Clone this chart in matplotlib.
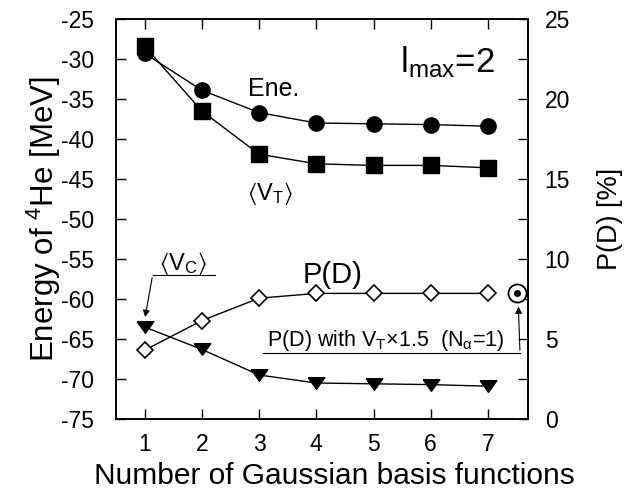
import numpy as np
import matplotlib
matplotlib.use("Agg")
import matplotlib.pyplot as plt

plt.rcParams['font.family'] = ['Liberation Sans', 'DejaVu Sans']
plt.rcParams['mathtext.fontset'] = 'custom'
plt.rcParams['mathtext.rm'] = 'Liberation Sans'
plt.rcParams['mathtext.it'] = 'Liberation Sans:italic'
plt.rcParams['mathtext.fallback'] = 'stixsans'
plt.rcParams['axes.unicode_minus'] = False

# number of gaussian basis functions
nbasis = [1, 2, 3, 4, 5, 6, 7]
# energies in MeV (left axis)
ene = [-29.3, -33.9, -36.7, -38.0, -38.1, -38.2, -38.4]
vt = [-28.4, -36.5, -41.9, -43.1, -43.3, -43.3, -43.6]
vc = [-63.5, -66.3, -69.5, -70.5, -70.6, -70.7, -70.9]
# D-state probability in % (right axis)
pd = [4.3, 6.15, 7.55, 7.85, 7.85, 7.85, 7.85]
# single point: P(D) with V_T x 1.5, N_alpha = 1
pd15_x = 7.5
pd15_y = 7.9

# flat downward triangle
tri = [(-1, 0.7), (1, 0.7), (0, -0.7), (-1, 0.7)]

fig = plt.figure(figsize=(6.24, 4.95), dpi=100)
ax = fig.add_axes([116/624, 1-419/495, 412/624, 400/495])
ax2 = ax.twinx()

kw = dict(color='k', lw=1.0)
ax.plot(nbasis, ene, marker='o', ms=11, **kw)
ax.plot(nbasis, vt, marker='s', ms=12, **kw)
ax.plot(nbasis, vc, marker=tri, ms=12, **kw)
ax2.plot(nbasis, pd, marker='D', ms=8.5, mfc='white', mec='k', mew=1.2, **kw)
ax2.plot(pd15_x, pd15_y, marker='o', ms=13, mfc='white', mec='k', mew=1.3, color='k')
ax2.plot(pd15_x, pd15_y, marker='o', ms=4, color='k')

ax.set_xlim(0.5, 7.7)
ax.set_ylim(-75, -25)
ax2.set_ylim(0, 25)
ax.set_xticks(nbasis)
ax.set_yticks(np.arange(-75, -24, 5))
ax2.set_yticks(np.arange(0, 26, 5))
ax2.set_yticks(np.arange(0, 26, 2.5), minor=True)

ax.tick_params(direction='in', length=7, width=1, labelsize=16.5, top=True)
ax.tick_params(axis='x', pad=10)
ax.tick_params(axis='y', right=False, pad=16)
ax2.tick_params(direction='in', length=7, width=1, labelsize=16.5, pad=12)
ax2.tick_params(which='minor', direction='in', length=7, width=1)
for a in (ax, ax2):
    for s in a.spines.values():
        s.set_linewidth(1.2)

ax.set_xlabel('Number of Gaussian basis functions', fontsize=21.5)
ax.xaxis.set_label_coords(0.53, -0.108, transform=ax.transAxes)
ax.set_ylabel('Energy of $^{4}$He [MeV]', fontsize=22.5, labelpad=-2)
ax2.set_ylabel('P(D) [%]', fontsize=19.5, labelpad=19)

ax.text(3.25, -33.75, 'Ene.', fontsize=18, ha='center', va='center')
ax.text(3.19, -46.9, '$\\langle$V$_\\mathrm{T}$$\\rangle$', fontsize=17, ha='center', va='center')
ax.text(1.67, -55.6, '$\\langle$V$_\\mathrm{C}$$\\rangle$', fontsize=17, ha='center', va='center')
ax.text(4.28, -57.0, 'P(D)', fontsize=21, ha='center', va='center')
ax.text(7.12, -31.6, 'l$_\\mathrm{max}$=2', fontsize=25, ha='right', va='baseline')
ax.text(3.14, -65.9, 'P(D) with V$_\\mathrm{T}$×1.5  (N$_\\mathrm{α}$=1)',
        fontsize=15.5, ha='left', va='baseline')

# leader lines with arrows
ax.plot([1.14, 2.23], [-57.0, -57.0], color='k', lw=0.8)
ax.annotate('', xy=(1.0, -62.6), xytext=(1.14, -57.0),
            arrowprops=dict(arrowstyle='-|>', color='k', lw=0.8, mutation_scale=10))
ax.plot([3.07, 7.56], [-66.75, -66.75], color='k', lw=0.8)
ax.annotate('', xy=(7.53, -60.6), xytext=(7.56, -66.75),
            arrowprops=dict(arrowstyle='-|>', color='k', lw=0.8, mutation_scale=10))

fig.savefig('out.png', dpi=100)
